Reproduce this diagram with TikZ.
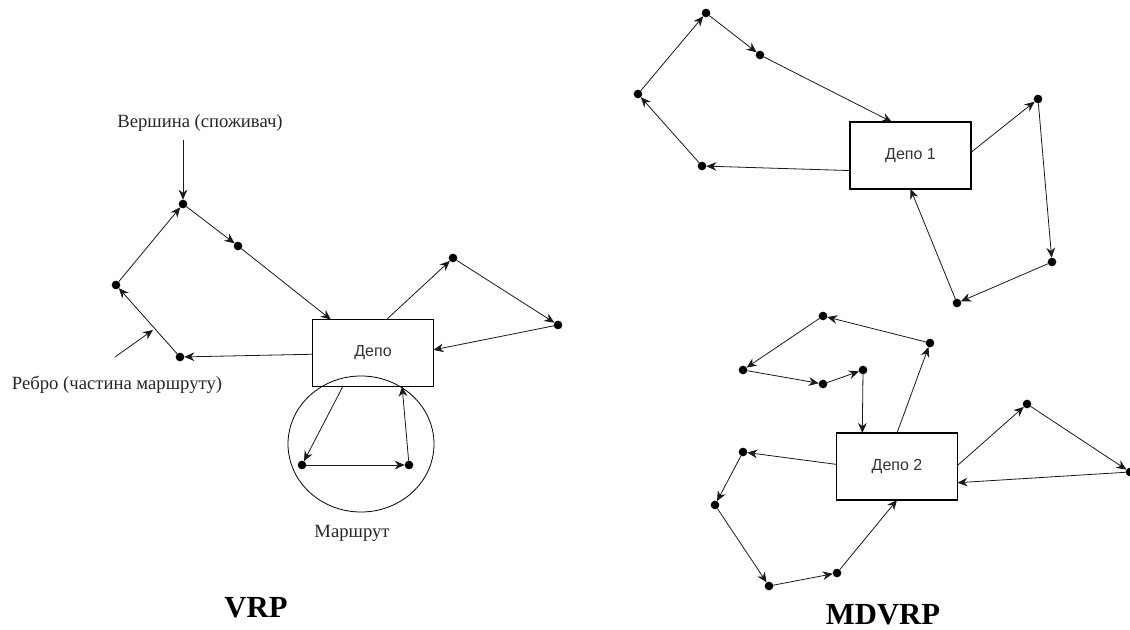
\documentclass[tikz,border=0pt]{standalone}
\usepackage{fontspec}
\setmainfont{Liberation Serif}
\setsansfont{Liberation Sans}
\usetikzlibrary{arrows.meta,shapes.geometric}
\tikzset{
  depotbox/.style={draw=black, line width=0.8pt, minimum width=90.75pt,
    minimum height=50.25pt, inner sep=0pt, outer sep=0pt,
    font=\sffamily\fontsize{12}{14}\selectfont, text=black!80},
  cust/.style={circle, fill=black, minimum size=6.5pt, inner sep=0pt, outer sep=0pt},
  hop/.style={-{Stealth[length=7.5pt,width=6.5pt]}, line width=0.6pt, draw=black!90},
  note/.style={font=\fontsize{14}{16}\selectfont, inner sep=0pt, text=black!85},
  caption/.style={font=\bfseries\fontsize{23}{26}\selectfont, inner sep=0pt}
}

\begin{document}
\begin{tikzpicture}[x=0.75pt, y=-0.75pt]
  \useasboundingbox (0,0) rectangle (1130,630);

  % --- VRP: one depot ---
  \node[depotbox] (dep) at (373,353) {Депо};
  \node[cust] (v1) at (183,204) {};
  \node[cust] (v2) at (238,246) {};
  \node[cust] (v3) at (116,285) {};
  \node[cust] (v4) at (180,357) {};
  \node[cust] (r1) at (453,258) {};
  \node[cust] (r2) at (558,325) {};
  \node[cust] (m1) at (302,465) {};
  \node[cust] (m2) at (409,465) {};
  \node[draw, ellipse, line width=0.6pt, minimum width=109.5pt,
    minimum height=102pt] (loop) at (361,444) {};

  \draw[hop] (dep) -- (v4);
  \foreach \a/\b in {v4/v3, v3/v1, v1/v2} \draw[hop] (\a) -- (\b);
  \draw[hop] (v2) -- (dep);
  \draw[hop] (dep.68) -- (r1);
  \draw[hop] (r1) -- (r2);
  \draw[hop] (r2) -- (dep.3);
  \draw[hop] (dep.228) -- (m1);
  \draw[hop] (m1) -- (m2);
  \draw[hop] (m2) -- (dep.311);

  % labels with pointers
  \node[note] (vlabel) at (200,123) {Вершина (споживач)};
  \coordinate (vtail) at (183,140);
  \draw[hop] (vtail) -- (v1);
  \node[note] (elabel) at (117,385) {Ребро (частина маршруту)};
  \coordinate (etail) at (115,357);
  \coordinate (ehead) at (153,330);
  \draw[hop] (etail) -- (ehead);
  \node[note] (rlabel) at (352,533) {Маршрут};
  \node[caption] (vrp) at (256,608) {VRP};

  % --- MDVRP: depot 1 ---
  \node[depotbox] (dep1) at (910.5,155.5) {Депо 1};
  \node[cust] (a1) at (706,13) {};
  \node[cust] (a2) at (760,55) {};
  \node[cust] (a3) at (638,94) {};
  \node[cust] (a4) at (702,166) {};
  \node[cust] (b1) at (1038,99) {};
  \node[cust] (b2) at (1052,262) {};
  \node[cust] (b3) at (957,303) {};

  \draw[hop] (dep1.194) -- (a4);
  \foreach \a/\b in {a4/a3, a3/a1, a1/a2} \draw[hop] (\a) -- (\b);
  \draw[hop] (a2) -- (dep1.119);
  \draw[hop] (dep1.3) -- (b1);
  \foreach \a/\b in {b1/b2, b2/b3} \draw[hop] (\a) -- (\b);
  \draw[hop] (b3) -- (dep1.south);

  % --- MDVRP: depot 2 ---
  \node[depotbox] (dep2) at (897,466.5) {Депо 2};
  \node[cust] (c1) at (823,316) {};
  \node[cust] (c2) at (930,343) {};
  \node[cust] (c3) at (743,370) {};
  \node[cust] (c4) at (823,384) {};
  \node[cust] (c5) at (863,370) {};
  \node[cust] (e1) at (743,452) {};
  \node[cust] (e2) at (715,505) {};
  \node[cust] (e3) at (769,586) {};
  \node[cust] (e4) at (837,573) {};
  \node[cust] (f1) at (1027,404) {};
  \node[cust] (f2) at (1130,472) {};

  \draw[hop] (dep2.north) -- (c2);
  \foreach \a/\b in {c2/c1, c1/c3, c3/c4, c4/c5} \draw[hop] (\a) -- (\b);
  \draw[hop] (c5) -- (dep2.136);
  \draw[hop] (dep2.178) -- (e1);
  \foreach \a/\b in {e1/e2, e2/e3, e3/e4} \draw[hop] (\a) -- (\b);
  \draw[hop] (e4) -- (dep2.south);
  \draw[hop] (dep2.1) -- (f1);
  \draw[hop] (f1) -- (f2);
  \draw[hop] (f2) -- (dep2.345);

  \node[caption] (mdvrp) at (883,615) {MDVRP};
\end{tikzpicture}
\end{document}
